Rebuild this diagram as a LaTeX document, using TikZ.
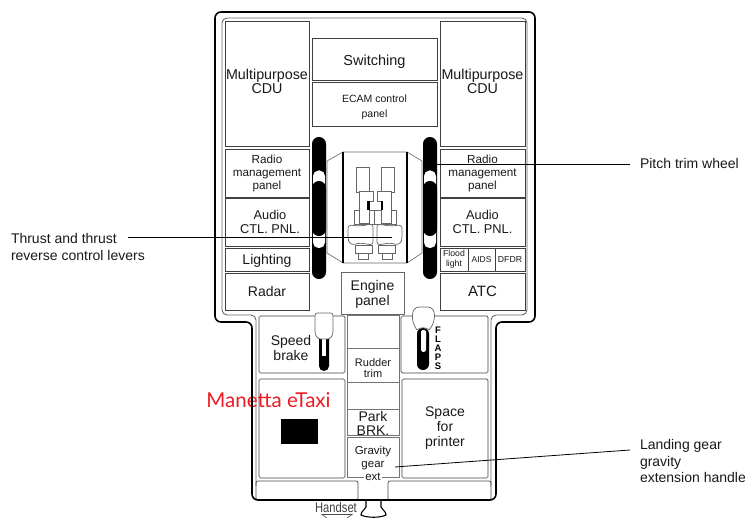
\documentclass[tikz,border=0pt]{standalone}
\usepackage{fontspec}
\setmainfont{Liberation Sans}
\newfontfamily\etaxifont{Lato}
\usetikzlibrary{arrows.meta,calc,positioning}
\newcommand{\fs}[2]{\fontsize{#1}{#2}\selectfont}
\definecolor{etaxired}{RGB}{237,28,36}
\tikzset{
  panel/.style={draw=black!75,line width=0.7pt,inner sep=0pt,outer sep=0pt,align=center,text=black!90},
  softpanel/.style={panel,rounded corners=1.5pt},
  column/.style={panel,draw=black!55,line width=1pt},
  paneltext/.style={inner sep=0pt,align=center,text=black!90},
  callout/.style={inner sep=0pt,outer sep=0pt,align=left,anchor=north west,text=black!90},
  leader/.style={draw=black,line width=0.8pt},
  lever/.style={draw=black!60,line width=0.7pt,fill=white}
}
\begin{document}
\begin{tikzpicture}[x=1pt,y=-1pt]
  \useasboundingbox (0,0) rectangle (745,518);
  \fill[white] (0,0) rectangle (745,518);
  % inner edge of the pedestal
  \draw[draw=black!60,line width=0.9pt,rounded corners=5pt] (256,486) -- (256,315) -- (222,315) -- (222,18) -- (527,18) -- (527,315) -- (491,315) -- (491,486);
  % left column
  \node[panel,minimum width=84pt,minimum height=125pt] (mcduL) at (267,83.5) {};
  \node[paneltext,font=\fs{14.3}{14}] (mcduLtext) at (267,81) {Multipurpose\\CDU};
  \node[panel,minimum width=84pt,minimum height=48pt,font=\fs{11.7}{13}] (radioL) at (267,173) {Radio\\management\\panel};
  \node[panel,minimum width=84pt,minimum height=48pt] (audioL) at (267,222) {};
  \node[paneltext,font=\fs{12.8}{14}] (audioLtext) at (270,222) {Audio\\CTL. PNL.};
  \node[panel,minimum width=84pt,minimum height=23pt] (lighting) at (267,259.5) {};
  \node[paneltext,font=\fs{14}{15}] (lightingtext) at (267,260.5) {Lighting};
  \node[panel,minimum width=84pt,minimum height=37pt,font=\fs{14}{15}] (radar) at (267,291.5) {Radar};
  % right column
  \node[panel,minimum width=85pt,minimum height=125pt] (mcduR) at (482.5,83.5) {};
  \node[paneltext,font=\fs{14.3}{14}] (mcduRtext) at (482.5,81) {Multipurpose\\CDU};
  \node[panel,minimum width=85pt,minimum height=48pt,font=\fs{11.7}{13}] (radioR) at (482.5,173) {Radio\\management\\panel};
  \node[panel,minimum width=85pt,minimum height=48pt,font=\fs{12.8}{14}] (audioR) at (482.5,222) {Audio\\CTL. PNL.};
  \node[panel,minimum width=28pt,minimum height=23pt,font=\fs{8.7}{10}] (flood) at (454,259.5) {Flood\\light};
  \node[panel,minimum width=27pt,minimum height=23pt,font=\fs{8.5}{10}] (aids) at (481.5,259.5) {AIDS};
  \node[panel,minimum width=30pt,minimum height=23pt,font=\fs{8.7}{10}] (dfdr) at (510,259.5) {DFDR};
  \node[panel,minimum width=85pt,minimum height=37pt,font=\fs{15}{16}] (atc) at (482.5,291.5) {ATC};
  % centre
  \node[panel,minimum width=125pt,minimum height=42pt] (switching) at (374.5,59) {};
  \node[paneltext,font=\fs{14.5}{15}] (switchingtext) at (374.5,62) {Switching};
  \node[panel,minimum width=125pt,minimum height=44pt] (ecam) at (374.5,104) {};
  \node[paneltext,font=\fs{10.5}{15}] (ecamtext) at (374.5,107.5) {ECAM control\\panel};
  \node[panel,draw=black!60,minimum width=63pt,minimum height=42pt] (engine) at (372.5,293) {};
  \node[paneltext,font=\fs{14}{15}] (enginetext) at (372.5,294) {Engine\\panel};
  % trim wheels
  \foreach \x in {312,423} {
    \fill[black,rounded corners=6.9pt] (\x,137) rectangle ({\x+14},279);
    \fill[white,rounded corners=5.5pt] ({\x+1},170.5) rectangle ({\x+13},248);
    \fill[black,rounded corners=6.9pt] (\x,181) rectangle ({\x+14},236);
  }
  % throttle quadrant
  \draw[draw=black!60,line width=0.6pt] (327,161) -- (343,152) -- (407,152) -- (422,161) -- (422,253) -- (407,263) -- (343,263) -- (327,253) -- cycle;
  \draw[line width=1.4pt] (343,152) -- (343,263);
  \draw[line width=1.4pt] (407,152) -- (407,263);
  \foreach \s/\o in {1/0,-1/750} {
    \begin{scope}[xshift=\o pt,xscale=\s]
      \draw[lever] (356,167) rectangle (369,192);
      \draw[lever] (354,210) rectangle (376,224);
      \draw[lever] (359,191) -- (373,191) -- (373,201) -- (369,201) -- (369,223) -- (359,223) -- cycle;
      \fill[black] (367,201) rectangle (369.5,210);
      \draw[lever] (358,253) rectangle (368,259);
      \draw[lever] (355,245) rectangle (372,253);
      \draw[lever,rounded corners=3pt] (348,225) -- (360,226) -- (373,224) -- (373,245) -- (360,243) -- (351,245) -- (348,240) -- cycle;
    \end{scope}
  }
  % lower boxes
  \node[softpanel,minimum width=86pt,minimum height=57pt] (speed) at (302,344.5) {};
  \node[paneltext,font=\fs{14}{15}] (speedtext) at (291,348) {Speed\\brake};
  \node[softpanel,minimum width=87pt,minimum height=57pt] (flaps) at (444.5,344.5) {};
  \node[softpanel,minimum width=86pt,minimum height=99pt] (etaxi) at (302,428.5) {};
  \node[softpanel,minimum width=86pt,minimum height=99pt,font=\fs{14}{15}] (printer) at (445,428.5) {Space\\for\\printer};
  \node[fill=black,minimum width=37pt,minimum height=25pt,inner sep=0pt] (etaxiblock) at (299.5,431.5) {};
  \node[inner sep=0pt,text=etaxired,font=\etaxifont\fs{20.5}{22}] (etaxitext) at (268.5,400) {Manetta eTaxi};
  % centre column
  \node[column,minimum width=52pt,minimum height=33pt] (blankA) at (373,332.5) {};
  \node[column,minimum width=52pt,minimum height=34pt] (rudder) at (373,366) {};
  \node[paneltext,font=\fs{11}{11}] (ruddertext) at (373,368) {Rudder\\trim};
  \node[column,minimum width=52pt,minimum height=27pt] (blankB) at (373,396.5) {};
  \node[column,minimum width=52pt,minimum height=26pt,font=\fs{14}{14}] (park) at (373,423) {Park\\BRK.};
  \node[column,minimum width=52pt,minimum height=40pt] (gravity) at (373,458) {};
  \node[paneltext,font=\fs{11.5}{12.5}] (gravitytext) at (373,458) {Gravity\\gear};
  \node[fill=white,inner sep=1pt,text=black!90,font=\fs{11.5}{12.5}] (gravityext) at (373,477) {ext};
  % speed brake and flaps levers
  \fill[black,rounded corners=4.9pt] (319,330) rectangle (329,371);
  \fill[white] (322,339) rectangle (326,356);
  \draw[lever,rounded corners=2.5pt] (315,313) -- (333,313) -- (333,334) -- (330,339) -- (318,339) -- (315,334) -- cycle;
  \fill[black,rounded corners=5.9pt] (417,328) rectangle (429,370);
  \fill[white,rounded corners=2.4pt] (421,330) rectangle (426,352);
  \draw[lever] (417,330) .. controls (410,321) and (411,307) .. (419,307) -- (428,307) .. controls (436,307) and (437,321) .. (429,330) .. controls (427,327) and (419,327) .. (417,330) -- cycle;
  \fill[white,rounded corners=2.4pt] (421,330) rectangle (426,340);
  \node[inner sep=0pt,align=center,text=black,font=\bfseries\fs{9.5}{9}] (flapstext) at (438,348) {F\\L\\A\\P\\S};
  % bottom edge
  \node[panel,rounded corners=2pt,minimum width=102pt,minimum height=19pt,draw=black!70] (stowL) at (307,490.5) {};
  \node[panel,rounded corners=2pt,minimum width=103pt,minimum height=19pt,draw=black!70] (stowR) at (439.5,490.5) {};
  % outer edge of the pedestal
  \draw[line width=1.6pt,rounded corners=6pt] (215,12) -- (535,12) -- (535,322) -- (496,322) -- (496,500) -- (252,500) -- (252,322) -- (215,322) -- cycle;
  % handset
  \node[inner sep=0pt,text=black!75] (handset) at (336,507) {\scalebox{0.8}[1]{\fs{14}{15}Handset}};
  \draw[draw=black!70,line width=0.6pt] (327,518) -- (322,514.5) -- (352,514.5) -- (347,518);
  \draw[line width=1.1pt] (366,501) -- (366,507) .. controls (365,510) and (361,511) .. (361,515) .. controls (367,518) and (380,518) .. (386,515) .. controls (386,511) and (382,510) .. (381,507) -- (381,501);
  % callouts
  \node[callout,font=\fs{14}{17}] (pitchlabel) at (640,158) {Pitch trim wheel};
  \node[callout,font=\fs{14}{17}] (thrustlabel) at (11,233) {Thrust and thrust\\reverse control levers};
  \node[callout,font=\fs{14}{16.5}] (gearlabel) at (640,439.5) {Landing gear\\gravity\\extension handle};
  \coordinate (pitchstart) at (630,164);
  \coordinate (pitchend) at (436,164);
  \coordinate (thruststart) at (128,237);
  \coordinate (thrustend) at (392,237);
  \coordinate (gearstart) at (630,450);
  \coordinate (gearend) at (395,467);
  \draw[leader] (pitchstart) -- (pitchend);
  \draw[leader] (thruststart) -- (thrustend);
  \draw[leader] (gearstart) -- (gearend);
\end{tikzpicture}
\end{document}
